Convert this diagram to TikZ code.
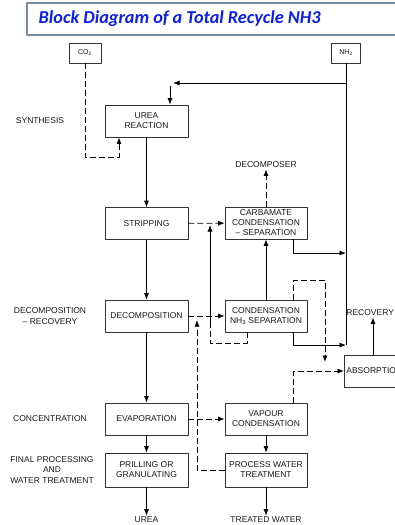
\documentclass[tikz,border=0pt]{standalone}
\usepackage{fontspec}
\setmainfont{Liberation Sans}
\newfontfamily\titlefont{Carlito}
\usetikzlibrary{arrows.meta}
\definecolor{titleblue}{RGB}{10,30,230}
\definecolor{titleframe}{RGB}{125,140,165}
\begin{document}
\begin{tikzpicture}[x=1pt,y=-1pt,line join=round,>={Latex[length=6.5pt,width=5pt]},line width=0.8pt,
	blockbox/.style={draw=black!80,fill=white,minimum width=83pt,minimum height=32pt,align=center,inner sep=1pt,text=black!90,font=\fontsize{8.5}{10}\selectfont},
	sidelabel/.style={align=center,inner sep=1pt,text=black!90,font=\fontsize{8.5}{10.5}\selectfont},
	dashline/.style={dash pattern=on 6pt off 3pt}]
	\useasboundingbox (0,0) rectangle (394,525);
	%Tiêu đề
	\draw[titleframe,line width=1.2pt,fill=white] (27,3) rectangle (410,35);
	\node[anchor=west,text=titleblue,font=\titlefont\bfseries\itshape\fontsize{18.2}{20}\selectfont] (title) at (35,19) {Block Diagram of a Total Recycle NH3};
	%Các khối nguyên liệu
	\node[blockbox,minimum width=32pt,minimum height=20pt,font=\fontsize{7}{8}\selectfont] (co2) at (85,53) {CO\textsubscript{2}};
	\node[blockbox,minimum width=29pt,minimum height=20pt,font=\fontsize{7}{8}\selectfont] (nh3) at (346,53) {NH\textsubscript{3}};
	%Các khối cột trái
	\node[blockbox] (urea) at (146.5,121) {UREA\\REACTION};
	\node[blockbox] (strip) at (146.5,223.5) {STRIPPING};
	\node[blockbox] (decomp) at (146.5,316) {DECOMPOSITION};
	\node[blockbox] (evap) at (146.5,419) {EVAPORATION};
	\node[blockbox,minimum height=34pt] (prill) at (146.5,470) {PRILLING OR\\GRANULATING};
	%Các khối cột phải
	\node[blockbox,minimum width=82pt] (carb) at (266,223) {CARBAMATE\\CONDENSATION\\-- SEPARATION};
	\node[blockbox,minimum width=82pt] (cond) at (266,316) {CONDENSATION\\NH\textsubscript{3} SEPARATION};
	\node[blockbox,minimum width=82pt] (vapour) at (266,419) {VAPOUR\\CONDENSATION};
	\node[blockbox,minimum width=82pt,minimum height=34pt] (pwt) at (266,470) {PROCESS WATER\\TREATMENT};
	\node[blockbox,anchor=west,minimum width=0pt,inner xsep=2pt] (absorb) at (344,371) {ABSORPTION};
	%Nhãn bên trái
	\node[sidelabel] (syn) at (40,121) {SYNTHESIS};
	\node[sidelabel] (decrec) at (50,316) {DECOMPOSITION\\-- RECOVERY};
	\node[sidelabel] (conc) at (50,419) {CONCENTRATION};
	\node[sidelabel] (final) at (52,470) {FINAL PROCESSING\\AND\\WATER TREATMENT};
	%Nhãn sản phẩm
	\node[sidelabel] (decomposer) at (266,165) {DECOMPOSER};
	\node[sidelabel,anchor=west] (rec) at (345,313) {RECOVERY};
	\node[sidelabel] (ureaout) at (146.5,520) {UREA};
	\node[sidelabel] (waterout) at (266,520) {TREATED WATER};
	%Các điểm phụ
	\coordinate (co2in) at (119,157);
	\coordinate (nh3a) at (346,83);
	\coordinate (nh3c) at (346,253);
	\coordinate (nh3b) at (346,345);
	\coordinate (nh3tip) at (173,83);
	\coordinate (ureain) at (170,86);
	\coordinate (loopa) at (325,280);
	\coordinate (loopb) at (325,362);
	\coordinate (bypa) at (210,343);
	\coordinate (bypb) at (210,328);
	\coordinate (bypc) at (210,225);
	\coordinate (pwtup) at (197,320);
	\coordinate (absup) at (373,355);
	%Dòng chính
	\draw[dashline,->] (co2.south) |- (co2in) -- (co2in |- urea.south);
	\draw (nh3.south) -- (nh3b);
	\draw[->] (nh3a) -- (nh3tip);
	\draw[->] (ureain) -- (ureain |- urea.north);
	\draw[->] (urea) -- (strip);
	\draw[->] (strip) -- (decomp);
	\draw[->] (decomp) -- (evap);
	\draw[->] (evap) -- (prill);
	\draw[->] (prill) -- (ureaout);
	\draw[->] (vapour) -- (pwt);
	\draw[->] (pwt) -- (waterout);
	\draw[->] (cond) -- (carb);
	\draw[->] ([xshift=-14pt]carb.south east) |- (nh3c);
	\draw[->] ([xshift=-14pt]cond.south east) |- (nh3b);
	\draw[->] (absup) -- (absup |- rec.south);
	%Dòng nét đứt
	\draw[dashline,->] (strip) -- (carb);
	\draw[dashline,->] (decomp) -- (cond);
	\draw[dashline,->] (evap) -- (vapour);
	\draw[dashline,->] (carb) -- (decomposer);
	\draw[dashline,->] ([xshift=-14pt]cond.north east) |- (loopa) -- (loopb);
	\draw[dashline] ([xshift=-19pt]cond.south) |- (bypa) -- (bypb);
	\draw[->] (bypb) -- (bypc);
	\draw[dashline,->] (pwt.west) -| (pwtup);
	\draw[dashline,->] ([xshift=-14pt]vapour.north east) |- (absorb.west);
\end{tikzpicture}
\end{document}
